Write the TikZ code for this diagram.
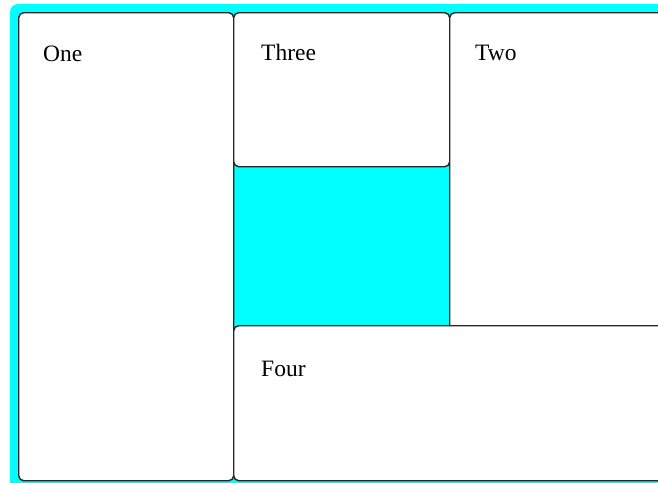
\documentclass[tikz,border=0pt]{standalone}
\usepackage{fontspec}
\setmainfont{Liberation Serif}
\definecolor{aqua}{HTML}{00FFFF}
\definecolor{edge}{HTML}{262626}
\begin{document}
\begin{tikzpicture}[x=1pt,y=-1pt,
  panel/.style={draw=edge, line width=1.4pt, fill=white, rounded corners=5pt, inner sep=0pt, anchor=north west},
  lbl/.style={anchor=base west, inner sep=0pt, font=\fontsize{23.5}{28}\selectfont}]
\useasboundingbox (0,0) rectangle (658,482);
\clip (0,0) rectangle (658,482);
\fill[aqua, rounded corners=8pt] (10,4) rectangle (700,520);
\node[panel, minimum width=215pt, minimum height=468pt] (one) at (18,12) {};
\node[panel, minimum width=216pt, minimum height=154pt] (three) at (233,12) {};
\node[panel, minimum width=240pt, minimum height=320pt] (two) at (449,12) {};
\node[panel, minimum width=460pt, minimum height=155pt] (four) at (233,325) {};
\node[lbl] (tone) at (43,61) {One};
\node[lbl] (tthree) at (261,60) {Three};
\node[lbl] (ttwo) at (475,60) {Two};
\node[lbl] (tfour) at (261,376) {Four};
\end{tikzpicture}
\end{document}
